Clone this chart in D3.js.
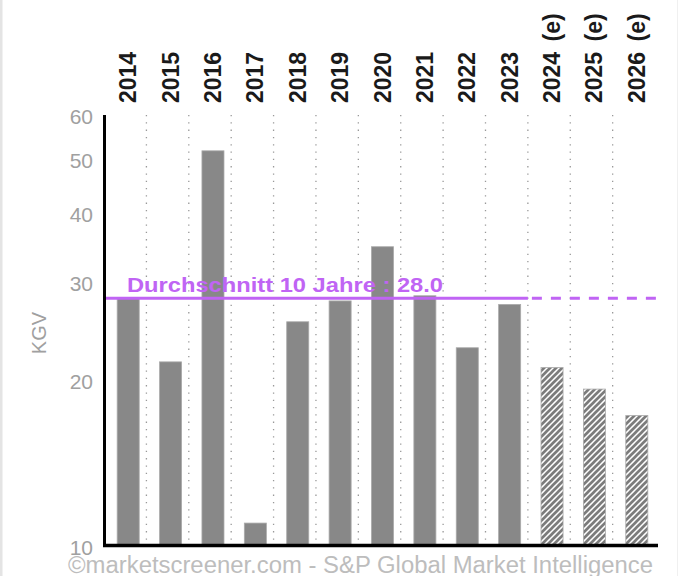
<!DOCTYPE html>
<html>
<head>
<meta charset="utf-8">
<script src="https://cdn.jsdelivr.net/npm/d3@7"></script>
<style>
  body { margin: 0; background: #fff; }
  svg { display: block; font-family: "Liberation Sans", Arial, sans-serif; }
</style>
</head>
<body>
<svg id="chart" width="678" height="576"></svg>
<script>
// data
const years = ["2014", "2015", "2016", "2017", "2018", "2019", "2020",
  "2021", "2022", "2023", "2024 (e)", "2025 (e)", "2026 (e)"];
const kgv = [28.0, 21.5, 51.7, 11.0, 25.4, 27.7, 34.7, 28.3, 22.8, 27.3, 21.0, 19.2, 17.2];
const estimate = [false, false, false, false, false, false, false,
  false, false, false, true, true, true];
const yTicks = [10, 20, 30, 40, 50, 60];
const avg10 = 28.0;
const avgLabel = "Durchschnitt 10 Jahre : 28.0";
const credit = "©marketscreener.com - S&P Global Market Intelligence";

const W = 678, H = 576;
const mLeft = 107, mRight = 658, mTop = 115, mBottom = 546;
const purple = "#c064f4";

const svg = d3.select("#chart");

// hatch for estimates
const defs = svg.append("defs");
defs.append("pattern")
  .attr("id", "hatch")
  .attr("patternUnits", "userSpaceOnUse")
  .attr("width", 6)
  .attr("height", 6)
  .append("path")
  .attr("d", "M-1,1 l2,-2 M0,6 l6,-6 M5,7 l2,-2")
  .attr("stroke", "#7c7c7c")
  .attr("stroke-width", 2.7);

// frame edges
svg.append("rect").attr("x", 0).attr("y", 0).attr("width", 2.5).attr("height", H).attr("fill", "#e4e4e4");
svg.append("rect").attr("x", 677).attr("y", 0).attr("width", 1).attr("height", H).attr("fill", "#f0f0f0");

const x = d3.scaleBand()
  .domain(years)
  .range([mLeft, mRight])
  .paddingInner(0.48)
  .paddingOuter(0.24);

const y = d3.scaleLog()
  .domain([10, 60])
  .range([mBottom, mTop]);

const step = x.step();
const bw = x.bandwidth();

// dotted separators
svg.append("g")
  .selectAll("line")
  .data(years.slice(0, -1))
  .join("line")
  .attr("x1", (d) => x(d) + bw + step * 0.17)
  .attr("x2", (d) => x(d) + bw + step * 0.17)
  .attr("y1", mTop)
  .attr("y2", mBottom)
  .attr("stroke", "#999")
  .attr("stroke-width", 1.3)
  .attr("stroke-dasharray", "1.3,6");

// bars
svg.append("g")
  .selectAll("rect")
  .data(years)
  .join("rect")
  .attr("x", (d) => x(d))
  .attr("width", bw)
  .attr("y", (_, i) => y(kgv[i]))
  .attr("height", (_, i) => mBottom - y(kgv[i]))
  .attr("fill", (_, i) => (estimate[i] ? "url(#hatch)" : "#888888"))
  .attr("stroke", "#aaa")
  .attr("stroke-width", 0.8);

// average line
const splitX = x(years[9]) + bw + step * 0.17;
svg.append("line")
  .attr("x1", mLeft - 1).attr("x2", splitX)
  .attr("y1", y(avg10)).attr("y2", y(avg10))
  .attr("stroke", purple)
  .attr("stroke-width", 3);
svg.append("line")
  .attr("x1", splitX + 4).attr("x2", mRight)
  .attr("y1", y(avg10)).attr("y2", y(avg10))
  .attr("stroke", purple)
  .attr("stroke-width", 3)
  .attr("stroke-dasharray", "10,9");

svg.append("text")
  .attr("x", 127)
  .attr("y", y(avg10) - 6)
  .attr("fill", purple)
  .attr("font-size", 20)
  .attr("font-weight", "bold")
  .attr("textLength", 316)
  .attr("lengthAdjust", "spacingAndGlyphs")
  .text(avgLabel);

// axes
svg.append("line")
  .attr("x1", mLeft - 2.5).attr("x2", mLeft - 2.5)
  .attr("y1", mTop).attr("y2", mBottom + 1)
  .attr("stroke", "#000")
  .attr("stroke-width", 3);
svg.append("line")
  .attr("x1", mLeft - 4).attr("x2", mRight)
  .attr("y1", mBottom - 0.5).attr("y2", mBottom - 0.5)
  .attr("stroke", "#000")
  .attr("stroke-width", 3.5);

svg.append("g")
  .selectAll("text")
  .data(yTicks)
  .join("text")
  .attr("x", 93)
  .attr("y", (d) => y(d))
  .attr("dy", "0.45em")
  .attr("text-anchor", "end")
  .attr("font-size", 21)
  .attr("fill", "#a0a0a0")
  .text((d) => d);

svg.append("text")
  .attr("transform", "translate(46,333) rotate(-90)")
  .attr("text-anchor", "middle")
  .attr("font-size", 20)
  .attr("fill", "#a0a0a0")
  .text("KGV");

// year labels
svg.append("g")
  .selectAll("text")
  .data(years)
  .join("text")
  .attr("transform", (d) => `translate(${x(d) + bw / 2 + 8},103) rotate(-90)`)
  .attr("font-size", 23)
  .attr("font-weight", "bold")
  .attr("fill", "#1a1a1a")
  .attr("word-spacing", (d) => (d.length > 4 ? 4 : 0))
  .text((d) => d);

// credit
svg.append("text")
  .attr("x", 68)
  .attr("y", 573)
  .attr("font-size", 23)
  .attr("fill", "#bdbdbd")
  .attr("textLength", 585)
  .attr("lengthAdjust", "spacingAndGlyphs")
  .text(credit);
</script>
</body>
</html>
